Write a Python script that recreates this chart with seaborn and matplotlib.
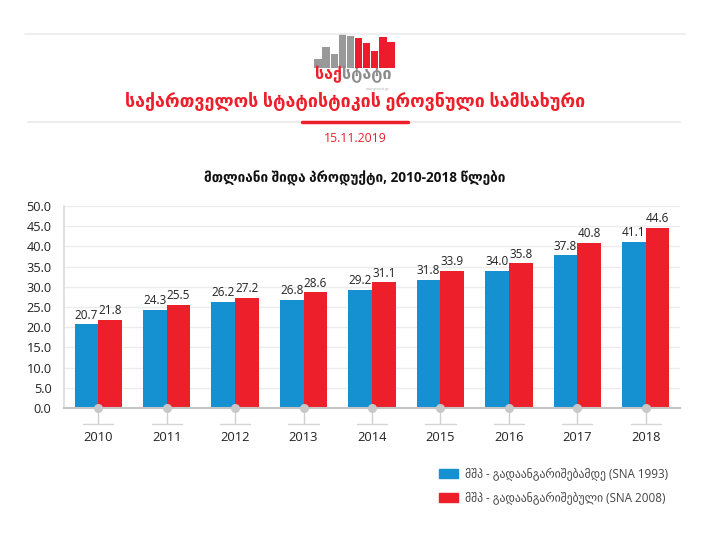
import pandas as pd
import seaborn as sns
import matplotlib.pyplot as plt
from matplotlib.lines import Line2D
import matplotlib.transforms as mtransforms

years = ['2010', '2011', '2012', '2013', '2014', '2015', '2016', '2017', '2018']
gdp_sna1993 = [20.7, 24.3, 26.2, 26.8, 29.2, 31.8, 34.0, 37.8, 41.1]
gdp_sna2008 = [21.8, 25.5, 27.2, 28.6, 31.1, 33.9, 35.8, 40.8, 44.6]
series_names = ['მშპ - გადაანგარიშებამდე (SNA 1993)', 'მშპ - გადაანგარიშებული (SNA 2008)']
y_ticks = [0, 5, 10, 15, 20, 25, 30, 35, 40, 45, 50]

# logo bars (grey then red)
logo_heights = [9, 21, 14, 34, 32, 30, 25, 17, 31, 26]
logo_colors = ['#999999'] * 5 + ['#ec1c2d'] * 5

org_title = 'საქართველოს სტატისტიკის ეროვნული სამსახური'
date_text = '15.11.2019'
chart_title = 'მთლიანი შიდა პროდუქტი, 2010-2018 წლები'

BLUE = '#1591d2'
RED = '#ec1f2a'

sns.set_theme(style='white')
plt.rcParams['font.family'] = ['Open Sans', 'DejaVu Sans']

df = pd.DataFrame({'year': years * 2,
                   'value': gdp_sna1993 + gdp_sna2008,
                   'series': [series_names[0]] * len(years) + [series_names[1]] * len(years)})

fig = plt.figure(figsize=(7.1, 5.39), dpi=100)
ax = fig.add_axes([64 / 710, 1 - 408 / 539, 616 / 710, 202 / 539])

sns.barplot(data=df, x='year', y='value', hue='series', palette=[BLUE, RED],
            width=0.69, saturation=1, linewidth=0, ax=ax, legend=False)

for c in ax.containers:
    ax.bar_label(c, fmt='%.1f', fontsize=8.5, color='#222222', padding=2)

ax.set_ylim(0, 50)
ax.set_xlim(-0.5, 8.5)
ax.set_yticks(y_ticks)
ax.set_yticklabels([f'{v:.1f}' for v in y_ticks], fontsize=9.2, color='#222222')
ax.set_xlabel('')
ax.set_ylabel('')
ax.yaxis.grid(True, color='#ececec', lw=1)
ax.set_axisbelow(True)
for s in ['top', 'right']:
    ax.spines[s].set_visible(False)
ax.spines['left'].set_color('#dcdcdc')
ax.spines['bottom'].set_color('#c4c4c4')
ax.spines['bottom'].set_linewidth(1.5)
ax.tick_params(axis='y', length=0, pad=9)
ax.tick_params(axis='x', bottom=True, length=11.5, width=1, color='#d0d0d0', pad=5,
               labelsize=9.3, labelcolor='#222222')

# dots and short rules under each year
trans = mtransforms.blended_transform_factory(ax.transData, ax.transAxes)
for i in range(len(years)):
    ax.plot([i], [0], marker='o', ms=5.5, color='#c8c8c8', clip_on=False, zorder=5)
    ax.plot([i - 0.22, i + 0.22], [-16 / 202, -16 / 202], color='#d5d5d5', lw=1,
            transform=trans, clip_on=False)

# header
fig.add_artist(Line2D([25 / 710, 685 / 710], [1 - 34 / 539] * 2, color='#ececec', lw=1.2))
fig.add_artist(Line2D([28 / 710, 680 / 710], [1 - 122 / 539] * 2, color='#ececec', lw=1.5))
fig.add_artist(Line2D([302 / 710, 408 / 710], [1 - 122 / 539] * 2, color=RED, lw=2.5))

lax = fig.add_axes([314 / 710, 1 - 68 / 539, 81 / 710, 34 / 539])
sns.barplot(x=list(range(len(logo_heights))), y=logo_heights, hue=list(range(len(logo_heights))),
            palette=logo_colors, width=0.92, saturation=1, linewidth=0, ax=lax, legend=False)
lax.set_ylim(0, 34)
lax.axis('off')

fig.text(342 / 710, 1 - 75 / 539, 'საქ', color=RED, fontsize=11.5, fontweight='bold',
         ha='right', va='center')
fig.text(342 / 710, 1 - 75 / 539, 'სტატი', color='#8c8c8c', fontsize=11.5, fontweight='bold',
         ha='left', va='center')
fig.text(378 / 710, 1 - 89 / 539, 'www.geostat.ge', color='#aaaaaa', fontsize=2.3,
         ha='center', va='center')

fig.text(355 / 710, 1 - 101 / 539, org_title, color=RED, fontsize=12.9, fontweight='bold',
         ha='center', va='center')
fig.text(355 / 710, 1 - 138 / 539, date_text, color=RED, fontsize=8.8, ha='center', va='center')
fig.text(355 / 710, 1 - 178 / 539, chart_title, color='#111111', fontsize=9.8,
         fontweight='bold', ha='center', va='center')

# legend
handles = [plt.Rectangle((0, 0), 1, 1, color=BLUE), plt.Rectangle((0, 0), 1, 1, color=RED)]
fig.legend(handles, series_names, loc='upper left', bbox_to_anchor=(428 / 710, 1 - 457 / 539),
           frameon=False, fontsize=8.4, handlelength=1.7, handleheight=0.85,
           handletextpad=0.6, labelspacing=0.95, labelcolor='#444444')

fig.savefig('out.png', dpi=100)
